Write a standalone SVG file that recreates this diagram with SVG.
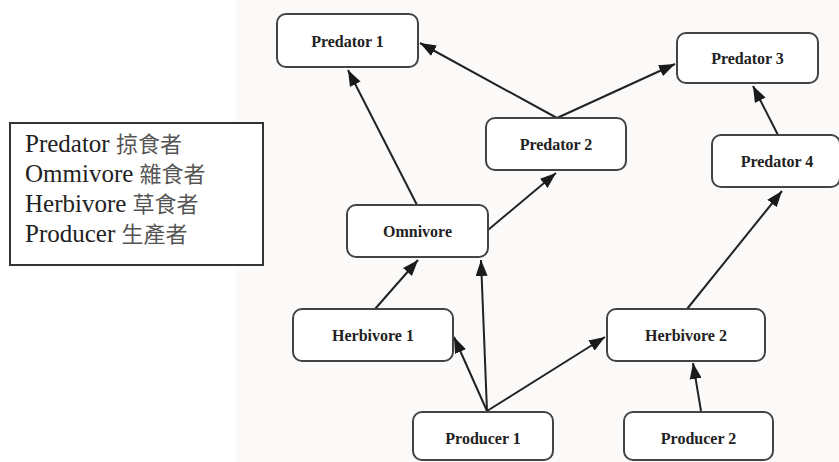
<svg xmlns="http://www.w3.org/2000/svg" width="839" height="462" viewBox="0 0 839 462">
<style>
.node rect{fill:#ffffff;stroke:#444;stroke-width:2}
.node text{font-size:16px;font-weight:bold;fill:#222;text-anchor:middle}
.edges line{stroke:#222;stroke-width:2}
.lg{font-size:25px;fill:#222}
.cjk{font-size:22px;fill:#555}
</style>
<defs>
<marker id="ah" viewBox="0 0 16 12" refX="16" refY="6" markerWidth="16" markerHeight="12" markerUnits="userSpaceOnUse" orient="auto">
<path d="M0,0 L16,6 L0,12 z" fill="#1a1a1a"/>
</marker>
</defs>
<rect x="0" y="0" width="839" height="462" fill="#ffffff"/>
<rect x="236" y="0" width="603" height="462" fill="#fbfaf9"/>
<g id="legend">
<rect x="10" y="123" width="253" height="142" fill="#ffffff" stroke="#333" stroke-width="2"/>
<text x="25" y="152" class="lg" font-family="Liberation Serif, serif">Predator <tspan class="cjk" font-family="Noto Sans CJK TC">掠食者</tspan></text>
<text x="25" y="182" class="lg" font-family="Liberation Serif, serif">Ommivore <tspan class="cjk" font-family="Noto Sans CJK TC">雜食者</tspan></text>
<text x="25" y="212" class="lg" font-family="Liberation Serif, serif">Herbivore <tspan class="cjk" font-family="Noto Sans CJK TC">草食者</tspan></text>
<text x="25" y="242" class="lg" font-family="Liberation Serif, serif">Producer <tspan class="cjk" font-family="Noto Sans CJK TC">生產者</tspan></text>
</g>
<g id="edges" class="edges">
<line x1="417" y1="205" x2="348" y2="70" marker-end="url(#ah)"/>
<line x1="557" y1="118" x2="420" y2="43" marker-end="url(#ah)"/>
<line x1="557" y1="118" x2="675" y2="64" marker-end="url(#ah)"/>
<line x1="488" y1="230" x2="556" y2="173" marker-end="url(#ah)"/>
<line x1="778" y1="135" x2="753" y2="86" marker-end="url(#ah)"/>
<line x1="687" y1="309" x2="782" y2="191" marker-end="url(#ah)"/>
<line x1="375" y1="309" x2="418" y2="260" marker-end="url(#ah)"/>
<line x1="487" y1="411" x2="481" y2="260" marker-end="url(#ah)"/>
<line x1="487" y1="411" x2="454" y2="337" marker-end="url(#ah)"/>
<line x1="487" y1="411" x2="605" y2="337" marker-end="url(#ah)"/>
<line x1="701" y1="411" x2="693" y2="363" marker-end="url(#ah)"/>
</g>
<g id="predator1" class="node"><rect x="277" y="14" width="141" height="53" rx="9"/><text x="347.5" y="47" font-family="Liberation Serif, serif">Predator 1</text></g>
<g id="predator2" class="node"><rect x="486" y="118" width="140" height="52" rx="9"/><text x="556" y="150" font-family="Liberation Serif, serif">Predator 2</text></g>
<g id="predator3" class="node"><rect x="677" y="33" width="141" height="50" rx="9"/><text x="747.5" y="64" font-family="Liberation Serif, serif">Predator 3</text></g>
<g id="predator4" class="node"><rect x="712" y="135" width="128" height="52" rx="9"/><text x="777" y="167" font-family="Liberation Serif, serif">Predator 4</text></g>
<g id="omnivore" class="node"><rect x="347" y="205" width="141" height="52" rx="9"/><text x="417.5" y="237" font-family="Liberation Serif, serif">Omnivore</text></g>
<g id="herbivore1" class="node"><rect x="293" y="309" width="160" height="52" rx="9"/><text x="373" y="341" font-family="Liberation Serif, serif">Herbivore 1</text></g>
<g id="herbivore2" class="node"><rect x="607" y="309" width="158" height="52" rx="9"/><text x="686" y="341" font-family="Liberation Serif, serif">Herbivore 2</text></g>
<g id="producer1" class="node"><rect x="413" y="412" width="140" height="48" rx="9"/><text x="483" y="444" font-family="Liberation Serif, serif">Producer 1</text></g>
<g id="producer2" class="node"><rect x="624" y="412" width="149" height="48" rx="9"/><text x="698.5" y="444" font-family="Liberation Serif, serif">Producer 2</text></g>
</svg>
